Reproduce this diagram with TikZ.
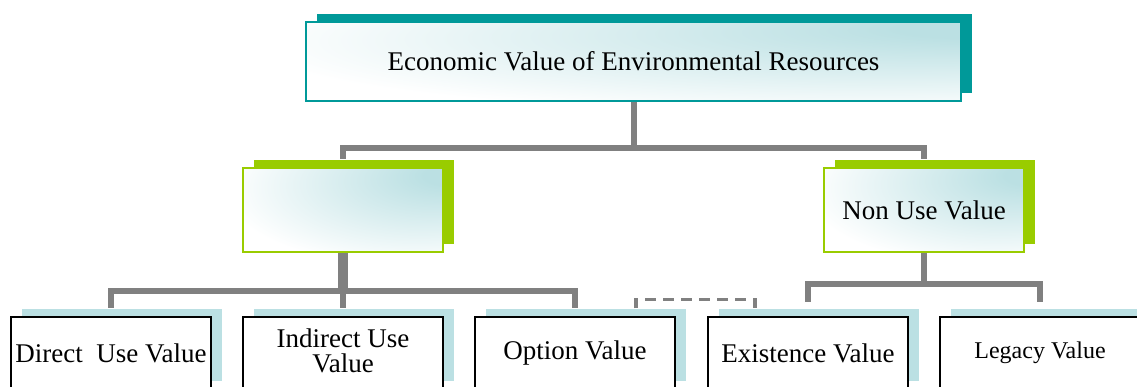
\documentclass[tikz,border=0pt]{standalone}
\usepackage{fontspec}
\setmainfont{Liberation Serif}
\usetikzlibrary{shadows}

\definecolor{tealframe}{RGB}{0,153,153}
\definecolor{limeframe}{RGB}{153,204,0}
\definecolor{paleblue}{RGB}{187,224,227}
\definecolor{linkgray}{RGB}{128,128,128}

% soft glow in the upper right corner of the framed boxes
\pgfdeclareradialshading{boxglow}{\pgfpoint{28bp}{22bp}}{color(0bp)=(paleblue); color(6bp)=(paleblue); color(45bp)=(white); color(100bp)=(white)}

\begin{document}
\begin{tikzpicture}[x=1pt, y=1pt,
    resource/.style={rectangle, draw=tealframe, line width=2pt, shade, shading=boxglow,
        minimum width=655pt, minimum height=79pt, inner sep=0pt,
        font=\fontsize{27}{27}\selectfont,
        copy shadow={shadow xshift=11pt, shadow yshift=8pt, fill=tealframe, draw=none}},
    category/.style={rectangle, draw=limeframe, line width=2pt, shade, shading=boxglow,
        minimum width=200pt, minimum height=84pt, inner sep=0pt,
        font=\fontsize{27}{27}\selectfont,
        copy shadow={shadow xshift=11pt, shadow yshift=8pt, fill=limeframe, draw=none}},
    valuebox/.style={rectangle, draw=black, line width=1.5pt, fill=white,
        minimum width=200pt, minimum height=72pt, inner sep=0pt, align=center,
        font=\fontsize{27}{25}\selectfont,
        copy shadow={shadow xshift=11pt, shadow yshift=8pt, fill=paleblue, draw=none}},
    edge from parent/.style={draw=linkgray, line width=6pt},
    use branch/.style={edge from parent path={(\tikzparentnode.south) -- ++(0,-38)
        -| ([yshift=8pt]\tikzchildnode.north)}},
    nonuse branch/.style={edge from parent path={(\tikzparentnode.south) -- ++(0,-31)
        -| ([yshift=14pt]\tikzchildnode.north)}},
    dashlink/.style={draw=linkgray, line width=3.5pt, dash pattern=on 11pt off 7pt},
    level 1/.style={sibling distance=581pt, level distance=148.5pt,
        edge from parent path={(\tikzparentnode.south) -- ++(0,-46)
        -| ([yshift=8pt]\tikzchildnode.north)}},
    level 2/.style={sibling distance=232pt, level distance=143pt}
]
\useasboundingbox (0,0) rectangle (1137,-387);
\clip (0,0) rectangle (1137,-387);

\node (Economic) [resource] at (633.5,-61.5) {Economic Value of Environmental Resources}
  child {
    node (UseValue) [category] {}
    child[use branch] {
      node (Direct) [valuebox] {Direct\ \ Use Value}
    }
    child[use branch] {
      node (Indirect) [valuebox, text depth=4pt] {Indirect Use\\Value}
    }
    child[use branch] {
      node (Option) [valuebox] {Option Value}
    }
  }
  child {
    node (NonUse) [category] {Non Use Value}
    child[nonuse branch] {
      node (Existence) [valuebox] {Existence Value}
    }
    child[nonuse branch] {
      node (Legacy) [valuebox, font=\fontsize{24}{24}\selectfont] {Legacy Value}
    }
  }
;

% heavier stem below the use value box
\draw [draw=linkgray, line width=10pt] (UseValue.south) -- ++(0,-36);

\draw [dashlink] ([xshift=61pt,yshift=8pt]Option.north) -- ++(0,9)
  -| ([xshift=-53pt,yshift=2pt]Existence.north);

\end{tikzpicture}
\end{document}
